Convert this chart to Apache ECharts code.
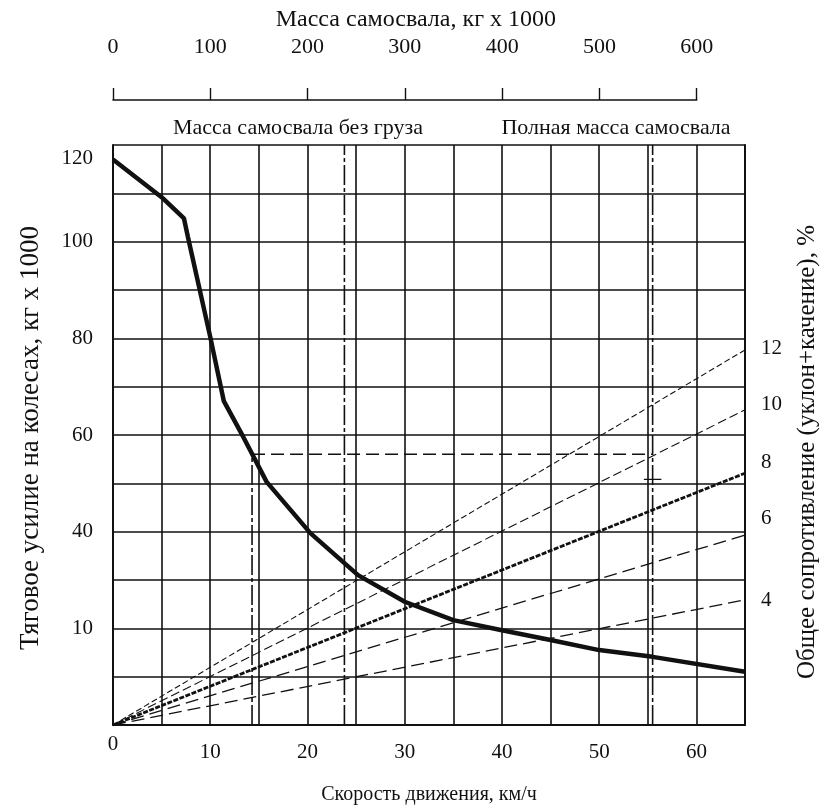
<!DOCTYPE html>
<html>
<head>
<meta charset="utf-8">
<script src="https://cdn.jsdelivr.net/npm/echarts@6/dist/echarts.min.js"></script>
<style>
  html, body { margin: 0; background: #fff; }
  #chart { width: 826px; height: 812px; }
</style>
</head>
<body>
<div id="chart"></div>
<script>
  // скорость, км/ч -> тяговое усилие, кг x 1000
  var tractionSpeed = [0, 5, 7.3, 7.7, 10, 11.4, 13.4, 15.8, 20.3, 25.2, 30, 35, 40, 45, 50, 55.5, 65]
  var tractionForce = [117, 109.2, 104.8, 101, 80.3, 67, 59.6, 50.3, 39.7, 31, 25.5, 21.7, 19.6, 17.6, 15.5, 14.1, 11]

  // линии сопротивления (из нуля до 65 км/ч)
  var resistLabels = ['12', '10', '8', '6', '4']
  var resistEndValue = [77.6, 65.2, 52.1, 39.3, 25.9]
  var speedMax = 65

  // вертикали масс самосвала (в км/ч по нижней оси)
  var emptyMassSpeed = 23.8
  var fullMassSpeed = 55.5
  // пунктир примера
  var exampleSpeed = 14.3
  var exampleForce = 56
  var crossMarkForce = 50.8

  var xTickLabels = [0, 10, 20, 30, 40, 50, 60]
  var yTickLabels = {20: '10', 40: '40', 60: '60', 80: '80', 100: '100', 120: '120'}
  var massTicks = [0, 100, 200, 300, 400, 500, 600]

  var font = 'Liberation Serif'
  var ink = '#111'

  var resistStyles = [
    {width: 1.1, type: [6, 3], dy: -1},
    {width: 1.1, type: [9, 4], dy: -5},
    {width: 2.8, type: [5, 1.5], dy: -11},
    {width: 1.3, type: [13, 6], dy: -17},
    {width: 1.3, type: [13, 6], dy: 1}
  ]

  var myChart = echarts.init(document.getElementById('chart'))

  var series = []
  series.push({
    name: 'traction',
    type: 'line',
    xAxisIndex: 0,
    yAxisIndex: 0,
    symbol: 'none',
    data: tractionSpeed.map(function (s, i) { return [s, tractionForce[i]] }),
    lineStyle: {color: ink, width: 4.5},
    z: 5
  })
  resistLabels.forEach(function (lbl, i) {
    var st = resistStyles[i]
    series.push({
      name: 'r' + lbl,
      type: 'line',
      symbol: 'none',
      data: [[0, 0], [speedMax, resistEndValue[i]]],
      lineStyle: {color: ink, width: st.width, type: st.type},
      endLabel: {
        show: true,
        formatter: lbl,
        distance: 16,
        offset: [0, st.dy],
        color: ink,
        fontFamily: font,
        fontSize: 21
      },
      z: 4
    })
  })
  var dashDot = {color: ink, width: 1.6, type: [20, 3, 4, 3]}
  series.push({
    type: 'line', symbol: 'none', z: 3,
    data: [[emptyMassSpeed, 0], [emptyMassSpeed, 120]],
    lineStyle: dashDot
  })
  series.push({
    type: 'line', symbol: 'none', z: 3,
    data: [[fullMassSpeed, 0], [fullMassSpeed, 120]],
    lineStyle: dashDot
  })
  series.push({
    type: 'line', symbol: 'none', z: 3,
    data: [[exampleSpeed, 0], [exampleSpeed, exampleForce]],
    lineStyle: dashDot
  })
  series.push({
    type: 'line', symbol: 'none', z: 3,
    data: [[exampleSpeed, exampleForce], [fullMassSpeed, exampleForce]],
    lineStyle: {color: ink, width: 1.5, type: [13, 6]}
  })
  series.push({
    type: 'line', symbol: 'none', z: 3,
    data: [[fullMassSpeed - 0.9, crossMarkForce], [fullMassSpeed + 0.9, crossMarkForce]],
    lineStyle: {color: ink, width: 1.2}
  })

  myChart.setOption({
    animation: false,
    backgroundColor: '#fff',
    textStyle: {fontFamily: font, color: ink},
    grid: [
      {left: 113, right: 81, top: 145, bottom: 87, outerBoundsMode: 'none'},
      {left: 113, width: 583.7, top: 99, height: 1, outerBoundsMode: 'none'}
    ],
    graphic: [
      {type: 'text', x: 298, y: 128, style: {text: 'Масса самосвала без груза', font: '22px "Liberation Serif"', fill: ink, align: 'center', verticalAlign: 'middle'}},
      {type: 'text', x: 616, y: 128, style: {text: 'Полная масса самосвала', font: '22px "Liberation Serif"', fill: ink, align: 'center', verticalAlign: 'middle'}}
    ],
    xAxis: [
      {
        type: 'value',
        gridIndex: 0,
        min: 0,
        max: speedMax,
        interval: 5,
        name: 'Скорость движения, км/ч',
        nameLocation: 'middle',
        nameGap: 60,
        nameTextStyle: {fontSize: 20, fontFamily: font, color: ink},
        axisLine: {lineStyle: {color: ink, width: 2}},
        axisTick: {show: false},
        axisLabel: {
          fontSize: 21,
          fontFamily: font,
          color: ink,
          margin: 9,
          formatter: function (v) {
            if (xTickLabels.indexOf(v) < 0) return ''
            return v === 0 ? String(v) : '{low|' + v + '}'
          },
          rich: {low: {fontSize: 21, fontFamily: font, color: ink, padding: [8, 0, 0, 0]}}
        },
        splitLine: {show: true, lineStyle: {color: ink, width: 1.6}}
      },
      {
        type: 'value',
        gridIndex: 1,
        position: 'top',
        min: 0,
        max: 600,
        interval: 100,
        name: 'Масса самосвала, кг х 1000',
        nameLocation: 'middle',
        nameGap: 67,
        nameTextStyle: {fontSize: 24, fontFamily: font, color: ink, padding: [0, 0, 0, 22]},
        axisLine: {lineStyle: {color: ink, width: 1.6}},
        axisTick: {show: true, length: 12, lineStyle: {color: ink, width: 1.4}},
        axisLabel: {
          fontSize: 22, fontFamily: font, color: ink, margin: 41,
          formatter: function (v) { return massTicks.indexOf(v) >= 0 ? String(v) : '' }
        },
        splitLine: {show: false}
      }
    ],
    yAxis: [
      {
        type: 'value',
        gridIndex: 0,
        min: 0,
        max: 120,
        interval: 10,
        name: 'Тяговое усилие на колесах, кг х 1000',
        nameLocation: 'middle',
        nameGap: 69,
        nameRotate: 90,
        nameTextStyle: {fontSize: 27, fontFamily: font, color: ink, padding: [0, 6, 0, 0]},
        axisLine: {lineStyle: {color: ink, width: 2}},
        axisTick: {show: false},
        axisLabel: {
          fontSize: 21,
          fontFamily: font,
          color: ink,
          margin: 20,
          formatter: function (v) {
            var t = yTickLabels[v]
            if (!t) return ''
            return v === 120 ? '{top|' + t + '}' : t
          },
          rich: {top: {fontSize: 21, fontFamily: font, color: ink, padding: [26, 0, 0, 0]}}
        },
        splitLine: {show: true, lineStyle: {color: ink, width: 1.6}}
      },
      {
        type: 'value',
        gridIndex: 0,
        position: 'right',
        min: 0,
        max: 120,
        interval: 10,
        name: 'Общее сопротивление (уклон+качение), %',
        nameLocation: 'middle',
        nameGap: 50,
        nameRotate: 90,
        nameTextStyle: {fontSize: 25, fontFamily: font, color: ink, padding: [0, 34, 0, 0]},
        axisLine: {show: true, lineStyle: {color: ink, width: 2}},
        axisTick: {show: false},
        axisLabel: {show: false},
        splitLine: {show: false}
      },
      {
        type: 'value',
        gridIndex: 1,
        show: false
      }
    ],
    series: series
  })
</script>
</body>
</html>
